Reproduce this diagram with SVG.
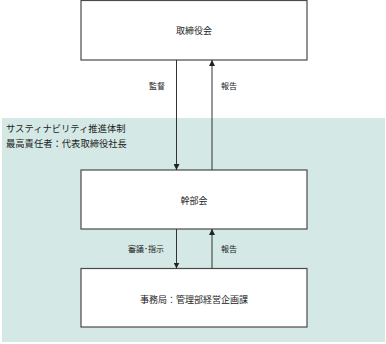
<svg xmlns="http://www.w3.org/2000/svg" width="386" height="344" viewBox="0 0 386 344">
<defs>
<style>
.box{fill:#ffffff;stroke:#4a4a4a;stroke-width:1.2}
.t{font-family:"Noto Sans CJK JP","Noto Sans CJK SC",sans-serif;fill:#222;}
.bt{font-size:9px;text-anchor:middle}
.lt{font-size:8px;text-anchor:middle}
.conn{stroke:#333;stroke-width:1;fill:none}
</style>
<marker id="ah" viewBox="0 0 6 6" refX="6" refY="3" markerWidth="6" markerHeight="6" markerUnits="userSpaceOnUse" orient="auto">
<path d="M0,0 L6,3 L0,6 z" fill="#222"/>
</marker>
</defs>
<g id="region">
<rect x="2" y="118" width="383" height="224" fill="#d4e9e6"/>
<text class="t" x="6" y="132" font-size="9.3">サスティナビリティ推進体制</text>
<text class="t" x="6" y="147" font-size="9.3">最高責任者：代表取締役社長</text>
</g>
<g id="board">
<rect class="box" x="81" y="0.5" width="226" height="59.5"/>
<text class="t bt" x="194" y="34">取締役会</text>
</g>
<g id="exec">
<rect class="box" x="81" y="170" width="226" height="59"/>
<text class="t bt" x="194" y="204">幹部会</text>
</g>
<g id="office">
<rect class="box" x="81" y="268.5" width="226" height="58.5"/>
<text class="t bt" x="194" y="303">事務局：管理部経営企画課</text>
</g>
<g id="connectors">
<line class="conn" x1="176.5" y1="60" x2="176.5" y2="170" marker-end="url(#ah)"/>
<line class="conn" x1="212" y1="170" x2="212" y2="60" marker-end="url(#ah)"/>
<line class="conn" x1="176.5" y1="229" x2="176.5" y2="268.5" marker-end="url(#ah)"/>
<line class="conn" x1="212" y1="268.5" x2="212" y2="229" marker-end="url(#ah)"/>
<text class="t lt" x="157" y="89">監督</text>
<text class="t lt" x="229" y="89">報告</text>
<text class="t lt" x="146" y="252">審議･指示</text>
<text class="t lt" x="229" y="252">報告</text>
</g>
</svg>
